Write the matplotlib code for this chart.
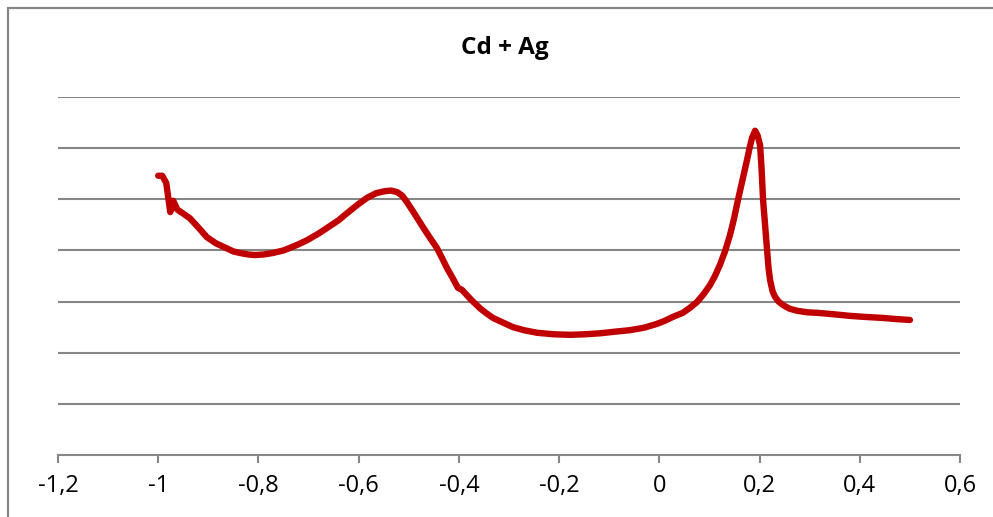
import matplotlib
matplotlib.use("Agg")
import matplotlib.pyplot as plt
from matplotlib.patches import Rectangle
from matplotlib.ticker import FixedLocator, FuncFormatter

# Measured curve (potential vs. signal, arbitrary units)
potential = [-1.000, -0.992, -0.984, -0.976, -0.970, -0.962, -0.950, -0.937, -0.920,
             -0.903, -0.885, -0.863, -0.850, -0.837, -0.820, -0.807, -0.790, -0.771,
             -0.750, -0.737, -0.720, -0.703, -0.680, -0.663, -0.640, -0.623, -0.600,
             -0.583, -0.565, -0.547, -0.535, -0.523, -0.513, -0.504, -0.490, -0.472,
             -0.458, -0.444, -0.434, -0.424, -0.413, -0.402, -0.394, -0.375, -0.358,
             -0.345, -0.332, -0.310, -0.292, -0.270, -0.244, -0.210, -0.178, -0.150,
             -0.118, -0.090, -0.059, -0.030, -0.006, 0.010, 0.027, 0.047, 0.060,
             0.075, 0.088, 0.101, 0.111, 0.121, 0.131, 0.141, 0.149, 0.157, 0.166,
             0.175, 0.180, 0.185, 0.191, 0.196, 0.201, 0.204, 0.207, 0.211, 0.215,
             0.218, 0.221, 0.226, 0.231, 0.238, 0.247, 0.260, 0.275, 0.295, 0.315,
             0.350, 0.381, 0.410, 0.446, 0.470, 0.500]
signal = [5.46, 5.46, 5.32, 4.75, 4.97, 4.80, 4.72, 4.63, 4.45,
          4.26, 4.14, 4.04, 3.98, 3.95, 3.92, 3.91, 3.92, 3.95,
          4.00, 4.05, 4.12, 4.20, 4.33, 4.44, 4.59, 4.73, 4.91,
          5.03, 5.12, 5.16, 5.17, 5.14, 5.07, 4.95, 4.74, 4.46,
          4.25, 4.05, 3.86, 3.66, 3.47, 3.27, 3.23, 3.03, 2.87,
          2.77, 2.68, 2.58, 2.50, 2.44, 2.39, 2.36, 2.35, 2.36,
          2.38, 2.41, 2.44, 2.49, 2.56, 2.62, 2.70, 2.78, 2.87,
          2.99, 3.14, 3.32, 3.50, 3.72, 3.98, 4.30, 4.62, 4.99, 5.38,
          5.77, 6.00, 6.20, 6.34, 6.25, 6.06, 5.60, 4.99, 4.50, 4.01,
          3.65, 3.42, 3.20, 3.09, 3.00, 2.93, 2.86, 2.82, 2.79, 2.78,
          2.75, 2.72, 2.70, 2.68, 2.66, 2.64]

x_ticks = [-1.2, -1.0, -0.8, -0.6, -0.4, -0.2, 0.0, 0.2, 0.4, 0.6]
grid_levels = [1, 2, 3, 4, 5, 6, 7]
title = "Cd + Ag"

W, H = 993, 517
fig = plt.figure(figsize=(W / 100, H / 100), dpi=100)
gray = "#868686"

# outer chart frame (left and top edges visible)
fig.patches.append(Rectangle((8 / W, -0.5), 2.0, 1.5 - 8 / H, transform=fig.transFigure,
                             fill=False, edgecolor=gray, linewidth=1.6))

ax = fig.add_axes([58 / W, (H - 455) / H, (960 - 58) / W, (455 - 97) / H])
ax.set_xlim(-1.2, 0.6)
ax.set_ylim(0, 7)

for lvl in grid_levels:
    ax.axhline(lvl, color=gray, linewidth=1.5, zorder=1)

ax.plot(potential, signal, color="#C00000", linewidth=4.6, solid_capstyle="round",
        solid_joinstyle="round", zorder=3)

for s in ["top", "right", "left"]:
    ax.spines[s].set_visible(False)
ax.spines["bottom"].set_color(gray)
ax.spines["bottom"].set_linewidth(1.5)


def comma_label(v, pos):
    if abs(v) < 1e-9:
        return "0"
    return f"{v:g}".replace(".", ",")


ax.xaxis.set_major_locator(FixedLocator(x_ticks))
ax.xaxis.set_major_formatter(FuncFormatter(comma_label))
ax.tick_params(axis="x", direction="out", length=6, width=1.5, color=gray,
               labelsize=17, pad=8, labelcolor="black")
for lbl in ax.get_xticklabels():
    lbl.set_family("Open Sans")
ax.set_yticks([])

fig.text(505 / W, 1 - 48 / H, title, ha="center", va="center",
         fontsize=17.5, fontweight="bold", family="Open Sans")

fig.savefig("out.png", dpi=100)
